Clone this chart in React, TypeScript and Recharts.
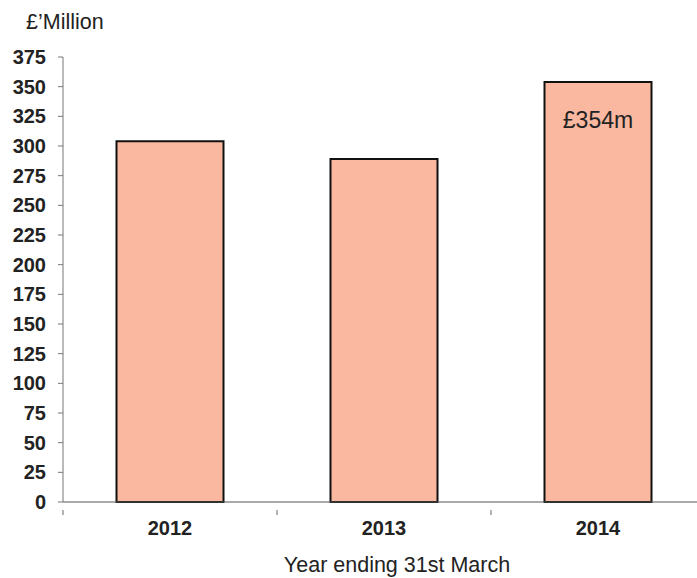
import React from 'react';
import { BarChart, Bar, XAxis, YAxis, LabelList, Label } from 'recharts';

const years = ['2012', '2013', '2014'];
const revenue = [304, 289, 354];
const yTicks = [0, 25, 50, 75, 100, 125, 150, 175, 200, 225, 250, 275, 300, 325, 350, 375];
const highlightLabel = '£354m';
const yTitle = '£\u2019Million';
const xTitle = 'Year ending 31st March';

const data = years.map((y, i) => ({ year: y, value: revenue[i] }));

const FONT = '"Liberation Sans", Arial, sans-serif';

const XTick = (props: any) => {
  const { x, y, payload, index } = props;
  const off = payload.offset || 0;
  return (
    <g>
      <line x1={x - off} x2={x - off} y1={y} y2={y + 5} stroke="#666" strokeWidth={1} />
      {index === years.length - 1 && (
        <line x1={x + off} x2={x + off} y1={y} y2={y + 5} stroke="#666" strokeWidth={1} />
      )}
      <text x={x} y={y + 25} textAnchor="middle" fontFamily={FONT} fontSize={20} fontWeight="bold" fill="#222">
        {payload.value}
      </text>
    </g>
  );
};

const BarLabel = (props: any) => {
  const { x, y, width, index } = props;
  if (index !== years.length - 1) return null;
  return (
    <text x={x + width / 2} y={y + 46} textAnchor="middle" fontFamily={FONT} fontSize={23} fill="#222">
      {highlightLabel}
    </text>
  );
};

export default function App() {
  return (
    <div style={{ position: 'absolute', left: 0, top: 0, width: 697, height: 578, overflow: 'hidden', background: '#fff' }}>
      <BarChart
        width={705}
        height={578}
        data={data}
        margin={{ top: 57, right: 0, left: 0, bottom: 0 }}
        barCategoryGap="25%"
      >
        <XAxis
          dataKey="year"
          height={76}
          axisLine={{ stroke: '#555', strokeWidth: 1 }}
          tickLine={false}
          tick={<XTick />}
          interval={0}
        >
          <Label
            content={(p: any) => {
              const vb = p.viewBox;
              return (
                <text x={vb.x + vb.width / 2 + 13} y={572} textAnchor="middle" fontFamily={FONT} fontSize={21.5} fill="#222">
                  {xTitle}
                </text>
              );
            }}
          />
        </XAxis>
        <YAxis
          width={63}
          domain={[0, 375]}
          ticks={yTicks}
          interval={0}
          axisLine={{ stroke: '#777', strokeWidth: 1 }}
          tickLine={{ stroke: '#777', strokeWidth: 1 }}
          tickSize={5}
          tickMargin={12}
          tick={{ fontFamily: FONT, fontSize: 20, fontWeight: 'bold', fill: '#222' }}
        >
          <Label
            content={() => (
              <text x={26} y={29} fontFamily={FONT} fontSize={21.5} fill="#222">
                {yTitle}
              </text>
            )}
          />
        </YAxis>
        <Bar dataKey="value" fill="#FAB8A0" stroke="#111" strokeWidth={2} isAnimationActive={false}>
          <LabelList dataKey="value" content={<BarLabel />} />
        </Bar>
      </BarChart>
    </div>
  );
}
